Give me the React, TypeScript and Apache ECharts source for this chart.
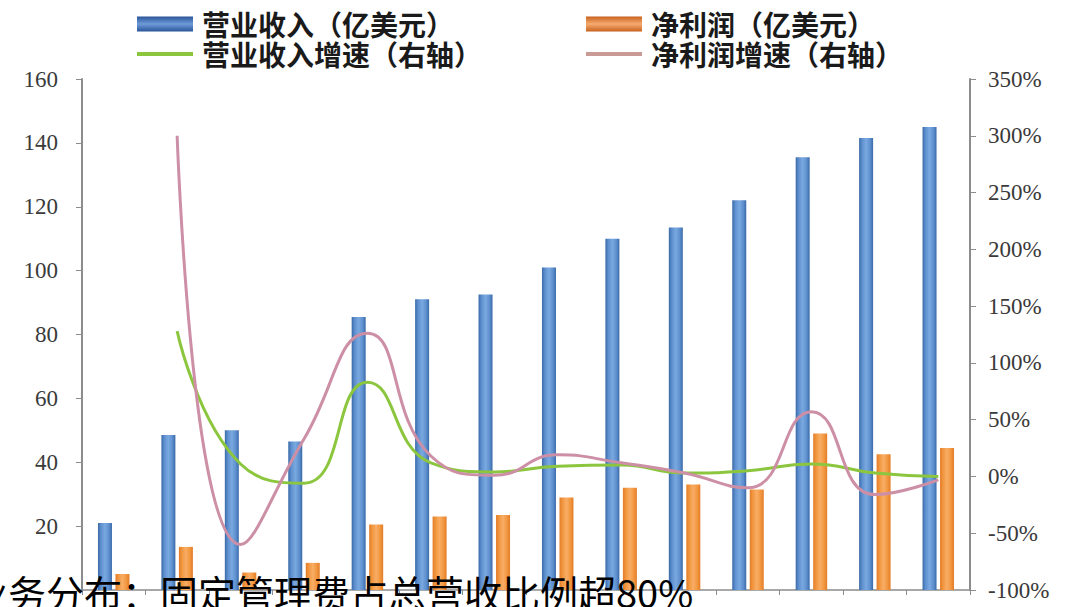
import React, { useEffect, useRef } from 'react';
import * as echarts from 'echarts';

const categories = ['2006', '2007', '2008', '2009', '2010', '2011', '2012', '2013', '2014', '2015', '2016', '2017', '2018', '2019'];
const revenue = [21, 48.5, 50, 46.5, 85.5, 91, 92.5, 101, 110, 113.5, 122, 135.5, 141.5, 145];
const netProfit = [5, 13.5, 5.5, 8.5, 20.5, 23, 23.5, 29, 32, 33, 31.5, 49, 42.5, 44.5];
const revenueGrowth = [null, 128, 11, -6, 83, 12, 4, 9, 10, 3, 5, 11, 3, 0];
const profitGrowth = [null, 300, -60, 33, 126, 18, 1, 19, 12, 3, -10, 57, -16, -3];

const leftAxis = { min: 0, max: 160, interval: 20 };
const rightAxis = { min: -100, max: 350, interval: 50 };

const names = ['营业收入（亿美元）', '净利润（亿美元）', '营业收入增速（右轴）', '净利润增速（右轴）'];
const overlayText = '业务分布：固定管理费占总营收比例超80%';

const hGrad = (edge: string, mid: string, center: string) =>
  new echarts.graphic.LinearGradient(0, 0, 1, 0, [
    { offset: 0, color: edge },
    { offset: 0.22, color: mid },
    { offset: 0.5, color: center },
    { offset: 0.78, color: mid },
    { offset: 1, color: edge },
  ]);
const vGrad = (edge: string, center: string) =>
  new echarts.graphic.LinearGradient(0, 0, 0, 1, [
    { offset: 0, color: edge },
    { offset: 0.5, color: center },
    { offset: 1, color: edge },
  ]);

const lineIcon = 'path://M0,0 L56,0 L56,4 L0,4 Z';

export default function App() {
  const ref = useRef<HTMLDivElement>(null);
  useEffect(() => {
    if (!ref.current) return;
    const chart = echarts.init(ref.current, undefined, { renderer: 'svg' });
    const legendText = {
      fontFamily: '"Noto Sans CJK SC", sans-serif',
      fontWeight: 'bold' as const,
      fontSize: 28,
      lineHeight: 28,
      color: '#1a1a1a',
      padding: [0, 0, 0, 4],
    };
    const axisLabelStyle = {
      fontFamily: '"Liberation Serif", "Times New Roman", serif',
      fontSize: 23,
      color: '#3a3a3a',
    };
    const mkLegend = (name: string, left: number, top: number, item: any) => ({
      show: true,
      left,
      top,
      padding: 0,
      itemWidth: 56,
      itemHeight: 15,
      textStyle: legendText,
      data: [{ name, ...item }],
    });
    chart.setOption({
      animation: false,
      backgroundColor: '#ffffff',
      grid: { left: 82, right: 95, top: 79, bottom: 17, containLabel: false },
      legend: [
        mkLegend(names[0], 137, 10, { icon: 'rect', itemStyle: { color: vGrad('#2a559a', '#6d9ad8') } }),
        mkLegend(names[1], 586, 10, { icon: 'rect', itemStyle: { color: vGrad('#c8621e', '#f5ab70') } }),
        mkLegend(names[2], 137, 40, { icon: lineIcon, itemStyle: { color: '#8cc63e' } }),
        mkLegend(names[3], 586, 40, { icon: lineIcon, itemStyle: { color: '#c99a96' } }),
      ],
      xAxis: {
        type: 'category',
        data: categories,
        axisLine: { lineStyle: { color: '#8c8c8c', width: 1.5 } },
        axisTick: { show: true, length: 5, inside: false, lineStyle: { color: '#8c8c8c' } },
        axisLabel: { show: false },
        splitLine: { show: false },
      },
      yAxis: [
        {
          type: 'value',
          min: leftAxis.min,
          max: leftAxis.max,
          interval: leftAxis.interval,
          axisLine: { show: true, lineStyle: { color: '#8c8c8c', width: 2 } },
          axisTick: { show: true, length: 6, lineStyle: { color: '#8c8c8c' } },
          axisLabel: { ...axisLabelStyle, margin: 24, showMinLabel: false },
          splitLine: { show: false },
        },
        {
          type: 'value',
          min: rightAxis.min,
          max: rightAxis.max,
          interval: rightAxis.interval,
          position: 'right',
          axisLine: { show: true, lineStyle: { color: '#8c8c8c', width: 2 } },
          axisTick: { show: true, length: 6, lineStyle: { color: '#8c8c8c' } },
          axisLabel: { ...axisLabelStyle, margin: 18, formatter: '{value}%' },
          splitLine: { show: false },
        },
      ],
      series: [
        {
          name: names[0],
          type: 'bar',
          data: revenue,
          barWidth: 14,
          barGap: '25%',
          itemStyle: { color: hGrad('#3a6aa8', '#5f90cf', '#7aa9e0') },
        },
        {
          name: names[1],
          type: 'bar',
          data: netProfit,
          barWidth: 14,
          barGap: '25%',
          itemStyle: { color: hGrad('#e27c28', '#f2973f', '#f8ad66') },
        },
        {
          name: names[2],
          type: 'line',
          yAxisIndex: 1,
          data: revenueGrowth,
          smooth: 0.5,
          symbol: 'none',
          lineStyle: { color: '#8cc63e', width: 3 },
          itemStyle: { color: '#8cc63e' },
        },
        {
          name: names[3],
          type: 'line',
          yAxisIndex: 1,
          data: profitGrowth,
          smooth: 0.5,
          symbol: 'none',
          lineStyle: { color: '#cc8fa6', width: 3 },
          itemStyle: { color: '#cc8fa6' },
        },
      ],
      graphic: [
        {
          type: 'text',
          x: -30,
          y: 572,
          z: 100,
          style: {
            text: overlayText,
            fontSize: 38,
            fontFamily: '"Noto Sans CJK SC", sans-serif',
            fill: '#000000',
            verticalAlign: 'top',
          },
        },
      ],
    });
    return () => chart.dispose();
  }, []);
  return <div ref={ref} style={{ position: 'fixed', left: 0, top: 0, width: 1065, height: 607 }} />;
}
